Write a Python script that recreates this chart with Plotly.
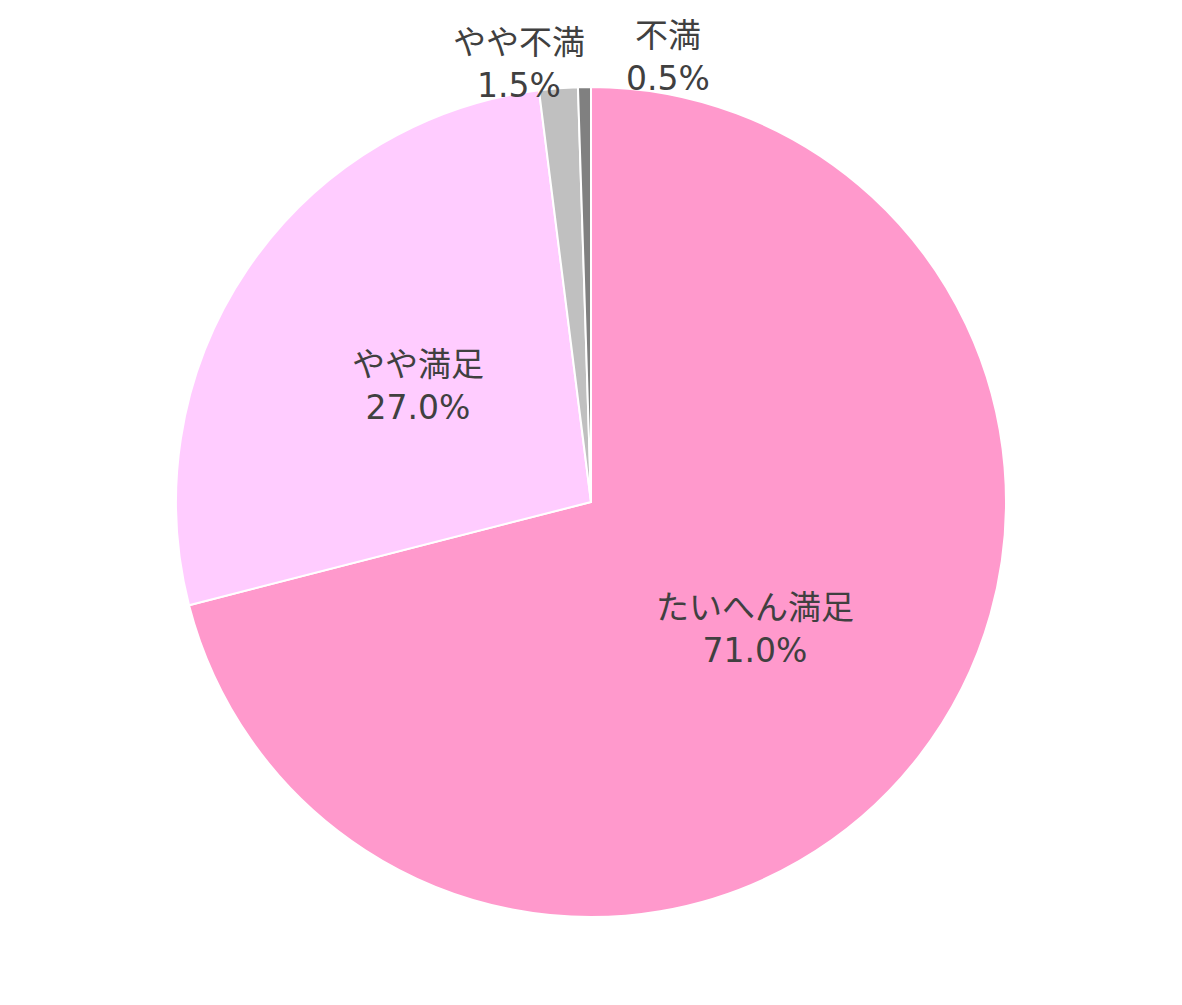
import plotly.graph_objects as go

labels = ["たいへん満足", "やや満足", "やや不満", "不満"]
values = [71.0, 27.0, 1.5, 0.5]
colors = ["#FF99CC", "#FFCCFF", "#C0C0C0", "#808080"]
# only the biggest slice keeps plotly's own inside label, the rest are annotations
text_pos = ["inside", "none", "none", "none"]

font_family = "DejaVu Sans, Noto Sans CJK JP"
font_color = "#404040"

fig = go.Figure()

fig.add_trace(go.Pie(
    labels=labels,
    values=values,
    sort=False,
    direction="clockwise",
    rotation=0,
    marker=dict(colors=colors, line=dict(color="white", width=2)),
    texttemplate="%{label}<br>%{value:.1f}%",
    textposition=text_pos,
    insidetextorientation="horizontal",
    textfont=dict(family=font_family, size=33, color=font_color),
    showlegend=False,
    hoverinfo="skip",
))

# label spots (paper coords; page has an 8px body offset)
plot_w, plot_h = 1166, 830
label_px = {1: (418, 386), 2: (519, 64), 3: (668, 57)}
for i, (px, py) in label_px.items():
    fig.add_annotation(
        x=(px - 8) / plot_w, y=1 + (87 - py) / plot_h,
        xref="paper", yref="paper",
        text=f"{labels[i]}<br>{values[i]:.1f}%",
        showarrow=False,
        xanchor="center", yanchor="middle",
        font=dict(family=font_family, size=33, color=font_color),
    )

fig.update_layout(
    width=1182,
    height=1005,
    margin=dict(l=0, r=16, t=79, b=96),
    paper_bgcolor="white",
    plot_bgcolor="white",
)

fig.write_html("out.html")
